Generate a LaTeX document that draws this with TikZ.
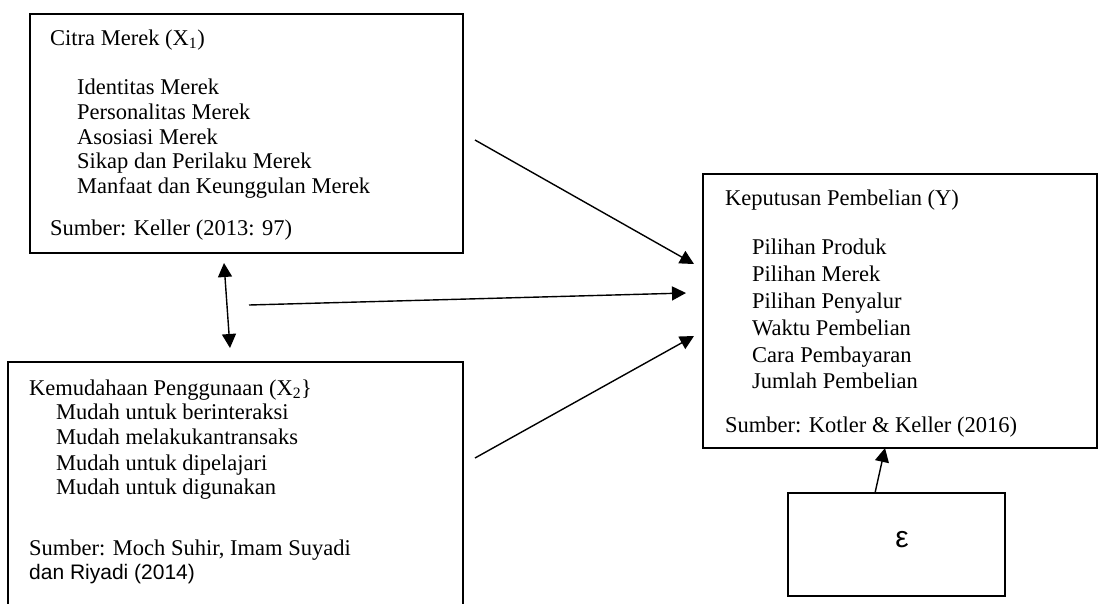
\documentclass[tikz,border=0pt]{standalone}
\usepackage{fontspec}
\setmainfont{Liberation Serif}
\newfontfamily\arialfont{Liberation Sans}
\usetikzlibrary{arrows.meta}
\begin{document}
\begin{tikzpicture}[x=1pt,y=-1pt,
  box/.style={draw,line width=1.4pt,inner sep=0pt,outer sep=0pt},
  txt/.style={anchor=base west,inner sep=0pt,font=\fontsize{22.5}{26}\selectfont},
  atxt/.style={anchor=base west,inner sep=0pt,font=\arialfont\fontsize{21}{25}\selectfont},
  arr/.style={line width=1.4pt,-{Triangle[length=14pt,width=14pt]}},
  darr/.style={line width=1.4pt,{Triangle[length=14pt,width=14pt]}-{Triangle[length=14pt,width=14pt]}},
]
\clip (0,0) rectangle (1099,603);
% boxes
\node[box,minimum width=433pt,minimum height=239pt] (b1) at (246.5,133.5) {};
\node[box,minimum width=455pt,minimum height=262pt] (b2) at (235.5,493) {};
\node[box,minimum width=394pt,minimum height=274pt] (b3) at (900,311) {};
\node[box,minimum width=217pt,minimum height=103pt] (eps) at (896.5,544.5) {};
% box 1 text
\node[txt] (t1a) at (50,45) {Citra Merek (X\textsubscript{1})};
\node[txt] (t1b) at (77,94) {Identitas Merek};
\node[txt] (t1c) at (77,119) {Personalitas Merek};
\node[txt] (t1d) at (77,144) {Asosiasi Merek};
\node[txt] (t1e) at (77,168) {Sikap dan Perilaku Merek};
\node[txt] (t1f) at (77,193) {Manfaat dan Keunggulan Merek};
\node[txt] (t1g) at (50,235) {Sumber: Keller (2013: 97)};
% box 2 text
\node[txt] (t2a) at (29,395) {Kemudahaan Penggunaan (X\textsubscript{2}\}};
\node[txt] (t2b) at (56,419) {Mudah untuk berinteraksi};
\node[txt] (t2c) at (56,444) {Mudah melakukantransaks};
\node[txt] (t2d) at (56,470) {Mudah untuk dipelajari};
\node[txt] (t2e) at (56,494) {Mudah untuk digunakan};
\node[txt] (t2f) at (29,555) {Sumber: Moch Suhir, Imam Suyadi};
\node[atxt] (t2g) at (29,579) {dan Riyadi (2014)};
% box 3 text
\node[txt] (t3a) at (725,205) {Keputusan Pembelian (Y)};
\node[txt] (t3b) at (752,254) {Pilihan Produk};
\node[txt] (t3c) at (752,281) {Pilihan Merek};
\node[txt] (t3d) at (752,308) {Pilihan Penyalur};
\node[txt] (t3e) at (752,335) {Waktu Pembelian};
\node[txt] (t3f) at (752,362) {Cara Pembayaran};
\node[txt] (t3g) at (752,388) {Jumlah Pembelian};
\node[txt] (t3h) at (725,432) {Sumber: Kotler \& Keller (2016)};
% epsilon
\node[inner sep=0pt,font=\arialfont\fontsize{30}{34}\selectfont] (e) at (902,540) {ε};
% connector coordinates
\coordinate (a1s) at (475,140);
\coordinate (a1e) at (694,264);
\coordinate (a2s) at (249,305);
\coordinate (a2e) at (686,293);
\coordinate (a3s) at (475,458);
\coordinate (a3e) at (694,336);
\coordinate (d1) at (224,263);
\coordinate (d2) at (230,348);
\coordinate (es) at (875,493);
\coordinate (ee) at (885,448);
\draw[arr] (a1s) -- (a1e);
\draw[arr] (a2s) -- (a2e);
\draw[arr] (a3s) -- (a3e);
\draw[darr] (d1) -- (d2);
\draw[arr] (es) -- (ee);
\end{tikzpicture}
\end{document}
